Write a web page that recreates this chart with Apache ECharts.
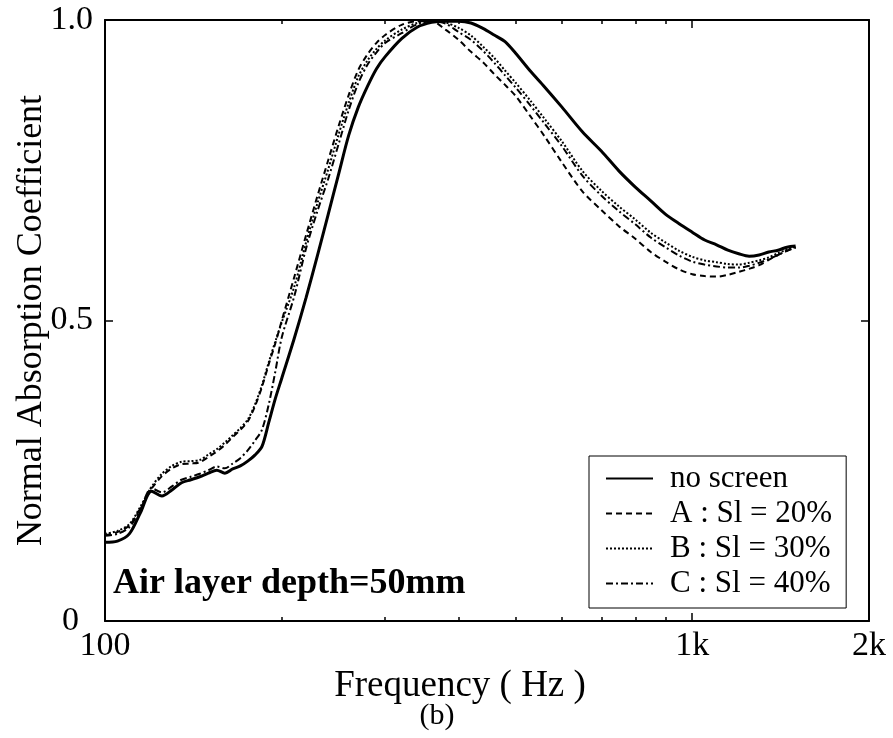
<!DOCTYPE html>
<html>
<head>
<meta charset="utf-8">
<script src="https://cdn.jsdelivr.net/npm/echarts@6/dist/echarts.min.js"></script>
<style>
  html, body { margin: 0; padding: 0; background: #fff; }
  #chart { width: 893px; height: 738px; }
</style>
</head>
<body>
<div id="chart"></div>
<script>
// frequency points (Hz), shared by every curve
const freq = [100, 105, 110, 115, 120, 125, 130, 135, 140, 145, 150, 155, 160, 165, 170, 175, 180, 185, 190, 195, 200,
  210, 220, 230, 240, 250, 260, 270, 280, 290, 300, 320, 340, 360, 380, 400, 420, 440, 460, 480, 500,
  530, 560, 600, 650, 700, 750, 800, 850, 900, 950, 1000, 1050, 1100, 1150, 1200, 1250, 1300, 1350, 1400, 1450, 1500];

const noScreen = [0.131, 0.133, 0.145, 0.181, 0.216, 0.208, 0.218, 0.230, 0.235, 0.240, 0.246, 0.251, 0.246, 0.253, 0.258, 0.266, 0.276, 0.290, 0.330, 0.370, 0.404,
  0.470, 0.538, 0.608, 0.677, 0.744, 0.808, 0.855, 0.890, 0.919, 0.939, 0.969, 0.988, 0.996, 0.998, 0.998, 0.995, 0.986, 0.975, 0.964, 0.945,
  0.915, 0.889, 0.855, 0.814, 0.782, 0.749, 0.722, 0.699, 0.677, 0.661, 0.647, 0.634, 0.626, 0.617, 0.611, 0.607, 0.609, 0.614, 0.617, 0.622, 0.624];

const slitA = [0.143, 0.148, 0.159, 0.188, 0.220, 0.241, 0.254, 0.261, 0.262, 0.264, 0.273, 0.282, 0.293, 0.306, 0.318, 0.332, 0.357, 0.389, 0.427, 0.462, 0.500,
  0.572, 0.642, 0.707, 0.767, 0.824, 0.875, 0.917, 0.943, 0.962, 0.975, 0.992, 0.998, 0.998, 0.984, 0.967, 0.947, 0.930, 0.910, 0.892, 0.874,
  0.840, 0.807, 0.763, 0.715, 0.684, 0.657, 0.636, 0.614, 0.598, 0.585, 0.577, 0.574, 0.573, 0.576, 0.581, 0.586, 0.592, 0.601, 0.609, 0.616, 0.622];

const slitB = [0.145, 0.150, 0.161, 0.191, 0.223, 0.245, 0.258, 0.265, 0.266, 0.268, 0.277, 0.286, 0.297, 0.309, 0.321, 0.335, 0.360, 0.392, 0.430, 0.465, 0.497,
  0.556, 0.630, 0.695, 0.752, 0.810, 0.862, 0.906, 0.933, 0.952, 0.966, 0.984, 0.995, 0.999, 0.996, 0.987, 0.974, 0.956, 0.937, 0.916, 0.896,
  0.866, 0.836, 0.798, 0.749, 0.716, 0.690, 0.668, 0.646, 0.630, 0.616, 0.606, 0.600, 0.597, 0.594, 0.593, 0.596, 0.600, 0.605, 0.612, 0.618, 0.623];

const slitC = [0.142, 0.145, 0.156, 0.187, 0.221, 0.214, 0.224, 0.235, 0.240, 0.245, 0.251, 0.257, 0.254, 0.262, 0.271, 0.284, 0.300, 0.318, 0.360, 0.415, 0.472,
  0.540, 0.620, 0.682, 0.736, 0.794, 0.850, 0.895, 0.926, 0.946, 0.962, 0.978, 0.993, 0.998, 0.994, 0.980, 0.967, 0.949, 0.929, 0.908, 0.888,
  0.858, 0.828, 0.790, 0.741, 0.708, 0.682, 0.660, 0.638, 0.622, 0.608, 0.598, 0.593, 0.590, 0.588, 0.588, 0.591, 0.596, 0.602, 0.609, 0.616, 0.621];

const majorTicks = [100, 1000];
const minorTicks = [200, 300, 400, 500, 600, 700, 800, 900];
const xTickLabels = [100, 1000, 2000];

const FONT = "'Liberation Serif', 'Times New Roman', serif";

const chart = echarts.init(document.getElementById("chart"));

function pairs(values) {
  return freq.map((f, i) => [f, values[i]]);
}

function xAxisOf(position, ticks, len, withLine, withLabel) {
  return {
    type: "log",
    logBase: 10,
    min: 100,
    max: 2000,
    position: position,
    axisLine: { show: withLine, onZero: false, lineStyle: { color: "#000", width: 2 } },
    axisTick: { show: true, inside: true, length: len, customValues: ticks, lineStyle: { color: "#000", width: 1.5 } },
    axisLabel: {
      show: withLabel,
      customValues: xTickLabels,
      margin: 8,
      fontFamily: FONT,
      fontSize: 34,
      color: "#000",
      formatter: (v) => (v >= 1000 ? v / 1000 + "k" : String(v)),
    },
    splitLine: { show: false },
    minorTick: { show: false },
  };
}

function lineSeries(name, values, width, dash) {
  return {
    name: name,
    type: "line",
    data: pairs(values),
    xAxisIndex: 0,
    yAxisIndex: 0,
    symbol: "none",
    smooth: 0.3,
    lineStyle: { color: "#000", width: width, type: dash },
    itemStyle: { color: "#000" },
  };
}

chart.setOption({
  animation: false,
  backgroundColor: "#fff",
  grid: { left: 105, top: 20, width: 764, height: 601, containLabel: false, outerBoundsMode: "none" },
  xAxis: [
    xAxisOf("bottom", majorTicks, 8, true, true),
    xAxisOf("bottom", minorTicks, 4, false, false),
    xAxisOf("top", majorTicks, 8, true, false),
    xAxisOf("top", minorTicks, 4, false, false),
  ],
  yAxis: [
    {
      type: "value",
      min: 0,
      max: 1,
      interval: 0.5,
      position: "left",
      name: "Normal Absorption Coefficient",
      nameLocation: "middle",
      nameGap: 55,
      nameMoveOverlap: false,
      nameTextStyle: { fontFamily: FONT, fontSize: 36, color: "#000" },
      axisLine: { show: true, lineStyle: { color: "#000", width: 2 } },
      axisTick: { show: true, inside: true, length: 8, lineStyle: { color: "#000", width: 1.5 } },
      axisLabel: {
        margin: 12,
        fontFamily: FONT,
        fontSize: 34,
        color: "#000",
        formatter: (v) => (v === 1 ? "1.0" : v === 0 ? "{z|0}" : String(v)),
        rich: { z: { fontFamily: FONT, fontSize: 34, color: "#000", padding: [0, 14, 0, 0] } },
      },
      splitLine: { show: false },
    },
    {
      type: "value",
      min: 0,
      max: 1,
      interval: 0.5,
      position: "right",
      axisLine: { show: true, lineStyle: { color: "#000", width: 2 } },
      axisTick: { show: true, inside: true, length: 8, lineStyle: { color: "#000", width: 1.5 } },
      axisLabel: { show: false },
      splitLine: { show: false },
    },
  ],
  legend: {
    orient: "vertical",
    left: 589,
    top: 456,
    selectedMode: false,
    backgroundColor: "#fff",
    borderColor: "#000",
    borderWidth: 1,
    padding: [7, 14, 9, 16],
    itemWidth: 47,
    itemHeight: 20,
    itemGap: 4,
    itemStyle: { opacity: 0 },
    textStyle: { fontFamily: FONT, fontSize: 31, color: "#000", lineHeight: 30, padding: [0, 0, 0, 12] },
    data: ["no screen", "A : Sl = 20%", "B : Sl = 30%", "C : Sl = 40%"],
  },
  graphic: [
    {
      type: "text",
      x: 460,
      y: 686,
      style: { text: "Frequency ( Hz )", font: "37px " + FONT, fill: "#000", align: "center", verticalAlign: "middle" },
    },
    {
      type: "text",
      x: 437,
      y: 716,
      style: { text: "(b)", font: "30px " + FONT, fill: "#000", align: "center", verticalAlign: "middle" },
    },
    {
      type: "text",
      x: 113,
      y: 584,
      z: 10,
      style: { text: "Air layer depth=50mm", font: "bold 36px " + FONT, fill: "#000", align: "left", verticalAlign: "middle" },
    },
  ],
  series: [
    lineSeries("no screen", noScreen, 3, "solid"),
    lineSeries("A : Sl = 20%", slitA, 2, [6, 4]),
    lineSeries("B : Sl = 30%", slitB, 2, [2, 2]),
    lineSeries("C : Sl = 40%", slitC, 2, [7, 3, 2, 3]),
  ],
});
</script>
</body>
</html>
